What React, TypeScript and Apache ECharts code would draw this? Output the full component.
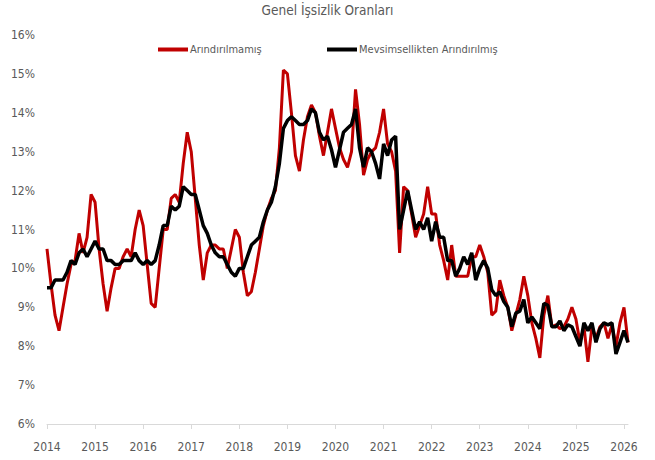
import React, { useEffect, useRef } from "react";
import * as echarts from "echarts";

const TITLE = "Genel İşsizlik Oranları";
const SERIES_NAMES = ["Arındırılmamış", "Mevsimsellikten Arındırılmış"];
const START_YEAR = 2014;
const Y_TICKS = [6, 7, 8, 9, 10, 11, 12, 13, 14, 15, 16];

// Arındırılmamış (monthly, 2014-01 .. 2026-02)
const nsa = [
  10.5, 9.6, 8.8, 8.4, 9.0, 9.6, 10.1, 10.2, 10.9, 10.4, 10.8, 11.9,
  11.7, 10.5, 9.6, 8.9, 9.5, 10.0, 10.0, 10.3, 10.5, 10.3, 11.0, 11.5,
  11.1, 10.1, 9.1, 9.0, 10.0, 11.0, 11.0, 11.8, 11.9, 11.7, 12.7, 13.5,
  13.0, 11.8, 10.6, 9.7, 10.4, 10.6, 10.6, 10.5, 10.5, 10.0, 10.5, 11.0,
  10.8, 9.9, 9.3, 9.4, 9.9, 10.5, 11.1, 11.5, 11.8, 12.0, 13.1, 15.1,
  15.0, 14.0, 12.9, 12.5, 13.3, 13.9, 14.2, 14.0, 13.4, 12.9, 13.5, 14.1,
  13.6, 13.1, 12.8, 12.6, 13.0, 14.6, 13.7, 12.4, 12.8, 13.0, 13.1, 13.5,
  14.1, 13.2, 13.0, 12.5, 10.4, 12.1, 12.0, 11.4, 10.8, 11.1, 11.4, 12.1,
  11.4, 11.4, 10.6, 10.2, 9.7, 10.6, 9.8, 9.8, 9.8, 9.8, 10.3, 10.3,
  10.6, 10.3, 9.9, 8.8, 8.9, 9.7, 9.3, 9.0, 8.4, 8.8, 9.2, 9.8,
  9.3, 8.6, 8.2, 7.7, 8.8, 9.3, 8.5, 8.55, 8.45, 8.5, 8.7, 9.0,
  8.7, 8.1, 8.5, 7.6, 8.5, 8.2, 8.5, 8.6, 8.2, 8.55, 8.0, 8.6,
  9.0, 8.1,
];

// Mevsimsellikten Arındırılmış
const sa = [
  9.5, 9.5, 9.7, 9.7, 9.7, 9.9, 10.2, 10.1, 10.4, 10.5, 10.3, 10.5,
  10.7, 10.5, 10.5, 10.2, 10.2, 10.1, 10.1, 10.2, 10.2, 10.2, 10.4, 10.2,
  10.1, 10.2, 10.1, 10.2, 10.6, 11.1, 11.1, 11.6, 11.5, 11.6, 12.1, 12.0,
  11.9, 11.9, 11.5, 11.1, 10.9, 10.6, 10.4, 10.3, 10.3, 10.1, 9.9, 9.8,
  10.0, 10.0, 10.3, 10.6, 10.7, 10.8, 11.2, 11.5, 11.7, 12.1, 12.7, 13.6,
  13.8, 13.9, 13.8, 13.7, 13.7, 13.8, 14.1, 14.0, 13.5, 13.3, 13.4, 13.05,
  12.6, 13.05, 13.5, 13.6, 13.7, 14.1, 13.1, 12.6, 13.1, 13.0, 12.7, 12.3,
  13.2, 12.9, 13.3, 13.4, 11.0, 11.5, 12.0, 11.5, 11.0, 11.2, 11.0, 11.3,
  10.7, 11.2, 10.8, 10.8, 10.2, 10.2, 9.8, 10.0, 10.3, 10.1, 10.4, 9.7,
  10.0, 10.2, 10.0, 9.45, 9.3, 9.4, 9.15, 9.0, 8.5, 8.85, 8.9, 9.2,
  8.6, 8.75, 8.6, 8.45, 9.1, 9.05, 8.5, 8.5, 8.65, 8.4, 8.55, 8.5,
  8.25, 8.0, 8.6, 8.4, 8.6, 8.1, 8.45, 8.6, 8.55, 8.6, 7.8, 8.1,
  8.4, 8.1,
];

const months: string[] = nsa.map((_, i) => {
  const y = START_YEAR + Math.floor(i / 12);
  const m = (i % 12) + 1;
  return `${y}-${m < 10 ? "0" + m : m}`;
});

const FONT = "'DejaVu Sans Condensed', 'Liberation Sans Narrow', sans-serif";
const GRAY = "#595959";

export default function App() {
  const ref = useRef<HTMLDivElement>(null);
  useEffect(() => {
    if (!ref.current) return;
    const chart = echarts.init(ref.current, undefined, { renderer: "svg" });
    chart.setOption({
      animation: false,
      backgroundColor: "#ffffff",
      title: {
        text: TITLE,
        left: "center",
        top: -2,
        textStyle: { fontFamily: FONT, fontSize: 13.5, fontWeight: "normal", color: GRAY },
      },
      legend: [
        {
          data: [SERIES_NAMES[0]],
          left: 153,
          top: 39,
          icon: "rect",
          itemWidth: 30,
          itemHeight: 4,
          itemGap: 2,
          textStyle: { fontFamily: FONT, fontSize: 11, color: GRAY, padding: [0, 0, 0, -3] },
        },
        {
          data: [SERIES_NAMES[1]],
          left: 322,
          top: 39,
          icon: "rect",
          itemWidth: 30,
          itemHeight: 4,
          textStyle: { fontFamily: FONT, fontSize: 11, color: GRAY, padding: [0, 0, 0, -3] },
        },
      ],
      grid: { left: 47, right: 27, top: 35, bottom: 36, containLabel: false, outerBoundsMode: "none" },
      xAxis: {
        type: "category",
        data: months,
        boundaryGap: false,
        axisLine: { lineStyle: { color: "#D9D9D9", width: 1 } },
        axisTick: {
          show: true,
          interval: (i: number) => i % 12 === 0,
          length: 5,
          lineStyle: { color: "#D9D9D9" },
        },
        axisLabel: {
          interval: (i: number) => i % 12 === 0,
          formatter: (v: string) => v.slice(0, 4),
          fontFamily: FONT,
          fontSize: 12,
          color: GRAY,
          margin: 17,
        },
        splitLine: { show: false },
      },
      yAxis: {
        type: "value",
        min: Y_TICKS[0],
        max: Y_TICKS[Y_TICKS.length - 1],
        interval: 1,
        axisLine: { show: false },
        axisTick: { show: false },
        splitLine: { show: false },
        axisLabel: {
          formatter: "{value}%",
          fontFamily: FONT,
          fontSize: 12,
          color: GRAY,
          margin: 12,
        },
      },
      series: [
        {
          name: SERIES_NAMES[0],
          type: "line",
          data: nsa,
          symbol: "none",
          lineStyle: { color: "#C00000", width: 3 },
          itemStyle: { color: "#C00000" },
          z: 2,
        },
        {
          name: SERIES_NAMES[1],
          type: "line",
          data: sa,
          symbol: "none",
          lineStyle: { color: "#000000", width: 3.5 },
          itemStyle: { color: "#000000" },
          z: 3,
        },
      ],
    });
    return () => chart.dispose();
  }, []);
  return (
    <div
      ref={ref}
      style={{ position: "absolute", left: 0, top: 0, width: 655, height: 460 }}
    />
  );
}
